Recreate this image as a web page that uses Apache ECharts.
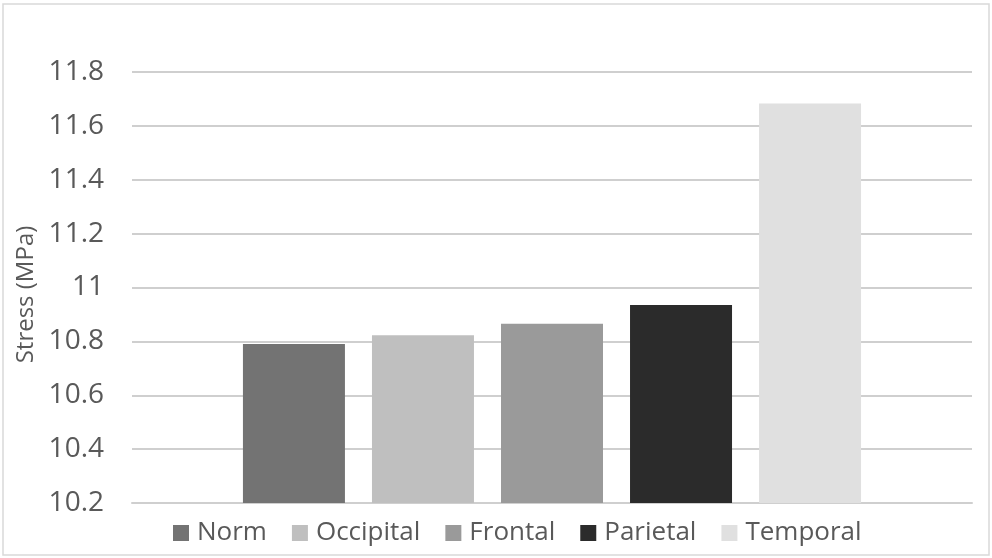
<!DOCTYPE html>
<html>
<head>
<meta charset="utf-8">
<script src="https://cdn.jsdelivr.net/npm/echarts@6/dist/echarts.min.js"></script>
<style>
  html, body { margin: 0; padding: 0; background: #fff; }
  #chart { width: 992px; height: 558px; }
</style>
</head>
<body>
<div id="chart"></div>
<script>
// data
const categories = ['']
const seriesNames = ['Norm', 'Occipital', 'Frontal', 'Parietal', 'Temporal']
const seriesValues = [10.79, 10.823, 10.865, 10.935, 11.683]
const seriesColors = ['#737373', '#bfbfbf', '#9a9a9a', '#2b2b2b', '#e0e0e0']
const yMin = 10.2
const yMax = 11.8
const yStep = 0.2

const myChart = echarts.init(document.getElementById('chart'))
const font = '"Open Sans", "Liberation Sans", sans-serif'

const option = {
    animation: false,
    backgroundColor: '#fff',
    graphic: [{
        type: 'rect',
        shape: { x: 3, y: 4, width: 986, height: 551 },
        style: { fill: 'none', stroke: '#d9d9d9', lineWidth: 1.5 },
        silent: true
    }],
    grid: { left: 132, right: 20, top: 72, bottom: 55 },
    legend: {
        bottom: 7,
        left: 168,
        icon: 'rect',
        itemWidth: 16,
        itemHeight: 16,
        itemGap: 25,
        textStyle: { color: '#595959', fontSize: 26, fontFamily: font, padding: [0, 0, 0, 3] },
        data: seriesNames
    },
    xAxis: {
        type: 'category',
        data: categories,
        axisLine: { lineStyle: { color: '#cfcfcf', width: 2 } },
        axisTick: { show: false },
        axisLabel: { show: false }
    },
    yAxis: {
        type: 'value',
        min: yMin,
        max: yMax,
        interval: yStep,
        name: 'Stress (MPa)',
        nameLocation: 'middle',
        nameGap: 92,
        nameTextStyle: { color: '#595959', fontSize: 24, fontFamily: font, padding: [0, 14, 0, 0] },
        axisLine: { show: false },
        axisTick: { show: false },
        axisLabel: { color: '#595959', fontSize: 28, fontFamily: font, margin: 28 },
        splitLine: { lineStyle: { color: '#cfcfcf', width: 2 } }
    },
    series: seriesNames.map((name, i) => ({
        name: name,
        type: 'bar',
        data: [seriesValues[i]],
        barWidth: 102,
        barGap: '26.5%',
        itemStyle: { color: seriesColors[i] }
    }))
}
myChart.setOption(option)
</script>
</body>
</html>
